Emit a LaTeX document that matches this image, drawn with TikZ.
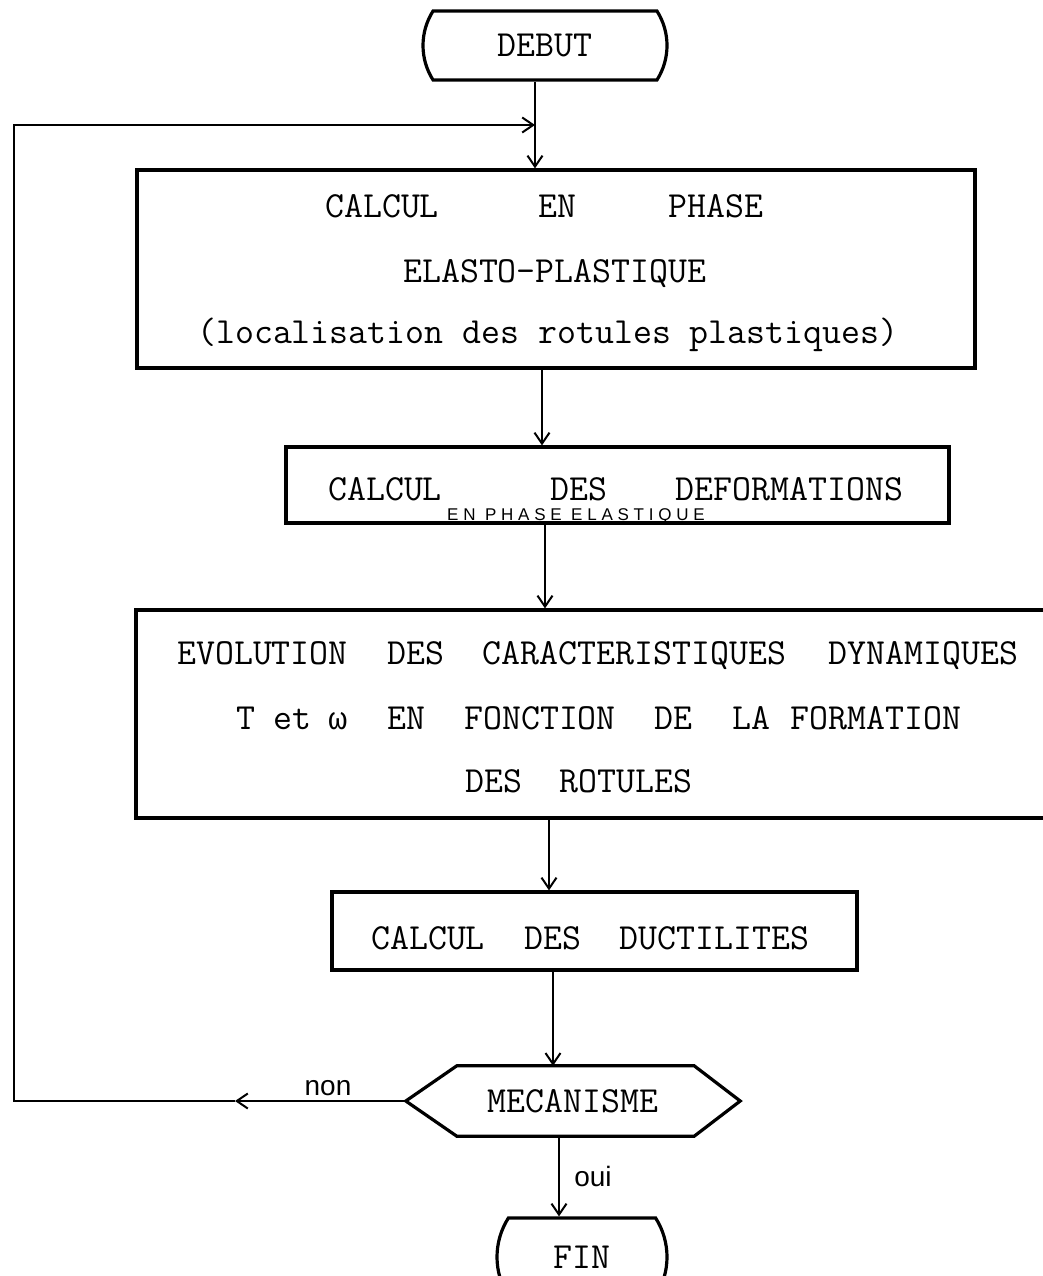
\documentclass[tikz,border=0pt]{standalone}
\usepackage{fontspec}
\setmainfont{Liberation Serif}
\newfontfamily\omegafont{Liberation Mono}
\newfontfamily\hand{Liberation Sans}
\newfontfamily\handsp[LetterSpace=28]{Liberation Sans}
\usetikzlibrary{arrows.meta,shapes.misc}
\newcommand\bigtw{\ttfamily\fontsize{36.8}{40}\selectfont}
\tikzset{
  outline/.style={draw, line width=3.2pt, line join=miter},
  box/.style={outline, rectangle, inner sep=0pt},
  terminal/.style={outline, rounded rectangle, rounded rectangle arc length=65, inner sep=0pt, font=\bigtw},
  txt/.style={anchor=base west, inner sep=0pt, font=\bigtw},
  conn/.style={line width=2pt, -{Straight Barb[length=11pt,width=15pt]}},
  hw/.style={anchor=base, inner sep=0pt, font=\hand\fontsize{28}{30}\selectfont}
}
\begin{document}
\begin{tikzpicture}[x=1pt,y=-1pt]
\useasboundingbox (0,0) rectangle (1043,1276);
\fill[white] (0,0) rectangle (1043,1276);

% terminals
\node[terminal, minimum width=244pt, minimum height=69pt] (debut) at (545,45.5) {DEBUT};
\node[terminal, minimum width=170pt, minimum height=78pt] (fin) at (582,1257) {FIN};

% box 1
\node[box, minimum width=838pt, minimum height=198pt] (b1) at (556,269) {};
\node[txt] (b1a) at (325,218) {CALCUL\hspace{99.6pt}EN\hspace{92.2pt}PHASE};
\node[txt] (b1b) at (403,282) {ELASTO-PLASTIQUE};
\node[txt] (b1c) at (197,343) {(localisation des rotules plastiques)};

% box 2
\node[box, minimum width=663pt, minimum height=76pt] (b2) at (617.5,485) {};
\node[txt] (b2a) at (328,500) {CALCUL\hspace{108.6pt}DES\hspace{68.3pt}DEFORMATIONS};
\node[anchor=base west, inner sep=0pt, font=\handsp\fontsize{17}{19}\selectfont] (b2b) at (447,520) {EN PHASE ELASTIQUE};

% box 3
\node[box, minimum width=914pt, minimum height=208pt] (b3) at (593,714) {};
\node[txt] (b3a) at (177,664) {EVOLUTION\hspace{39.9pt}DES\hspace{38.3pt}CARACTERISTIQUES\hspace{42.6pt}DYNAMIQUES};
\node[txt] (b3b) at (236,729) {T\hspace{18pt}et\hspace{17.2pt}{\omegafont\fontsize{31.5}{36}\selectfont ω}\hspace{40pt}EN\hspace{39.2pt}FONCTION\hspace{38.8pt}DE\hspace{40.2pt}LA\hspace{20.2pt}FORMATION};
\node[txt] (b3c) at (465,792) {DES\hspace{37.3pt}ROTULES};

% box 4
\node[box, minimum width=525pt, minimum height=78pt] (b4) at (594.5,931) {};
\node[txt] (b4a) at (371,949) {CALCUL\hspace{39.6pt}DES\hspace{38.3pt}DUCTILITES};

% decision
\node[inner sep=0pt, minimum width=334pt, minimum height=70pt, font=\bigtw] (mec) at (573,1101) {MECANISME};
\draw[outline] (mec.west) -- ([xshift=51pt]mec.north west) -- ([xshift=-46pt]mec.north east) -- (mec.east) -- ([xshift=-46pt]mec.south east) -- ([xshift=51pt]mec.south west) -- cycle;

% connector coordinates
\coordinate (join) at (535,125);
\coordinate (x1) at ([xshift=-14pt]b1.south);
\coordinate (x2) at ([xshift=-72.5pt]b2.south);
\coordinate (x3) at ([xshift=-44pt]b3.south);
\coordinate (x4) at ([xshift=-41.5pt]b4.south);
\coordinate (x5) at ([xshift=-14pt]mec.south);
\coordinate (nonarr) at (235,1101);
\coordinate (loopbl) at (14,1101);
\coordinate (looptl) at (14,125);

\draw[conn] (debut.south -| join) -- (b1.north -| join);
\draw[conn] (x1) -- (x1 |- b2.north);
\draw[conn] (x2) -- (x2 |- b3.north);
\draw[conn] (x3) -- (x3 |- b4.north);
\draw[conn] (x4) -- (x4 |- mec.north);
\draw[conn] (x5) -- (x5 |- fin.north);

\draw[conn] (mec.west) -- (nonarr);
\draw[conn] (nonarr) -- (loopbl) -- (looptl) -- (join);

\node[hw] (non) at (328,1095) {non};
\node[hw] (oui) at (593,1186) {oui};
\end{tikzpicture}
\end{document}
